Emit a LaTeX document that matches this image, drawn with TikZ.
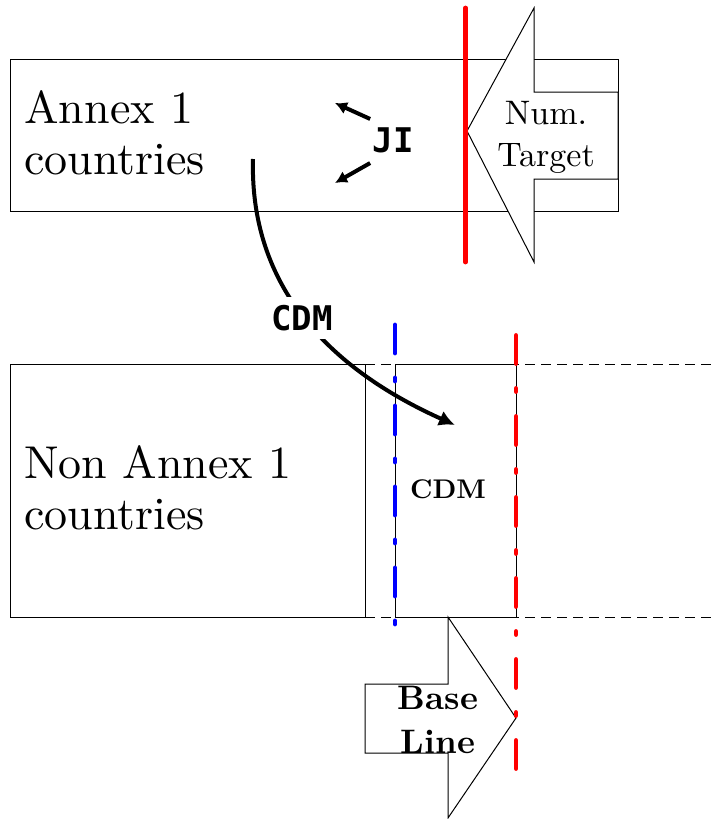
\documentclass[tikz,border=0pt]{standalone}
\usepackage{fontspec}
\usepackage{tikz}
\usetikzlibrary{arrows.meta}
% the 10pt design of Latin Modern at every size: wider letters
\setmainfont{lmroman10-regular.otf}[BoldFont=lmroman10-bold.otf]
\newfontfamily\gothicfont{DejaVu Sans Mono}

\begin{document}
\begin{tikzpicture}[
    x=0.5pt, y=-0.5pt,
    frame/.style={draw, line width=0.5pt},
    gridline/.style={draw, line width=0.5pt, dash pattern=on 5pt off 3pt},
    bigarrow/.style={draw, line width=0.5pt, fill=white, line join=miter},
    limit/.style={line width=2.4pt, line cap=round},
    dashdot/.style={limit, dash pattern=on 14pt off 12.5pt on 1.5pt off 12.5pt},
    arrow/.style={-{Latex[length=6pt, width=6.5pt]}, line width=2pt},
    country/.style={inner sep=0pt, align=left, font=\fontsize{23}{25.5}\selectfont},
    mono/.style={inner sep=1pt, font=\gothicfont\bfseries\fontsize{17}{20}\selectfont},
    caption/.style={inner sep=0pt, align=center}
]
\useasboundingbox (0,0) rectangle (714,819);

% Annex 1 block with the target arrow and its limit
\draw[frame] (10,59) rectangle (618,211);
\draw[bigarrow] (467,131) -- (534,8) -- (534,92) -- (618,92) -- (618,179) -- (534,179) -- (534,262) -- cycle;
\draw[limit, red] (465.5,8) -- (465.5,262);

\node[country, anchor=west] (annex) at (24,133) {Annex 1\\countries};
\node[caption, font=\fontsize{17}{21}\selectfont] (target) at (546,137) {Num.\\Target};

% JI inside Annex 1
\node[mono] (ji) at (393,140) {JI};
\coordinate (jiup) at (335,103);
\coordinate (jidown) at (335,183);
\draw[arrow] ([yshift=3pt]ji.north west) -- (jiup);
\draw[arrow] ([yshift=-4pt]ji.south west) -- (jidown);

% Non Annex 1 block
\draw[gridline] (365,364) -- (714,364);
\draw[gridline] (365,617) -- (714,617);
\draw[frame] (10,364) rectangle (365,617);
\draw[frame] (395,364) rectangle (516,617);
\draw[bigarrow] (365,684) -- (448,684) -- (448,617) -- (516,718) -- (448,818) -- (448,753) -- (365,753) -- cycle;
\draw[dashdot, blue] (395,325) -- (395,628);
\draw[dashdot, red] (516,335.5) -- (516,775);

\node[country, anchor=west] (nonannex) at (24,488) {Non Annex 1\\countries};
\node[font=\bfseries\fontsize{13.5}{16}\selectfont] (cdmzone) at (448,489) {CDM};
\node[caption, font=\bfseries\fontsize{17}{22}\selectfont] (base) at (438,720) {Base\\Line};

% CDM transfer
\coordinate (cdmfrom) at (253,159);
\coordinate (cdmto) at (455,425);
\draw[arrow, -{Latex[length=8pt, width=8pt]}] (cdmfrom) .. controls (250,270) and (310,360) .. (cdmto);
\node[mono, fill=white, inner sep=4pt] (cdm) at (302,318) {CDM};
\end{tikzpicture}
\end{document}
